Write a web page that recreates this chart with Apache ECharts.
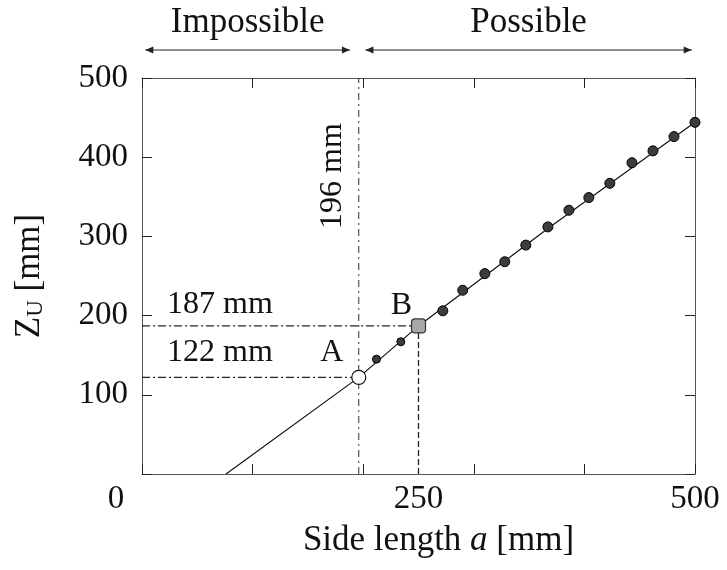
<!DOCTYPE html>
<html>
<head>
<meta charset="utf-8">
<script src="https://cdn.jsdelivr.net/npm/echarts@6/dist/echarts.min.js"></script>
<style>
html, body { margin: 0; padding: 0; background: #fff; }
#chart { width: 727px; height: 570px; }
</style>
</head>
<body>
<div id="chart"></div>
<script>
// computed points: side length a [mm] -> Zu [mm]
var sideA = [212, 234, 272, 290, 310, 328, 347, 367, 386, 404, 423, 443, 462, 481, 500];
var zuVals = [145, 167, 206, 232, 253, 268, 289, 312, 333, 349, 367, 393, 408, 426, 444];
// line through the points
var lineA = [76, 196, 250, 367, 500];
var lineZu = [0, 122, 187, 310, 444];
// limit point A and point B
var pointA = [196, 122];
var pointB = [250, 187];
// top ranges
var impossibleRange = [3, 188];
var possibleRange = [202, 497];
var xLabelTicks = [0, 250, 500];
var yTicks = [100, 200, 300, 400, 500];

var FONT = "'Liberation Serif', 'DejaVu Serif', serif";

function zip(xs, ys) {
    var out = [];
    for (var i = 0; i < xs.length; i++) out.push([xs[i], ys[i]]);
    return out;
}

var chart = echarts.init(document.getElementById('chart'));

var frameLine = { show: true, onZero: false, lineStyle: { color: '#555', width: 1 } };
var inTick = { show: true, inside: true, length: 10, lineStyle: { color: '#222', width: 1 } };

var option = {
    animation: false,
    backgroundColor: '#fff',
    grid: { left: 142, right: 32, top: 78, bottom: 96, containLabel: false },
    xAxis: [
        { type: 'value', min: 0, max: 500, interval: 100, position: 'bottom',
          axisLine: frameLine, axisTick: inTick, axisLabel: { show: false }, splitLine: { show: false } },
        { type: 'value', min: 0, max: 500, interval: 250, position: 'bottom',
          axisLine: { show: false, onZero: false }, axisTick: { show: false }, splitLine: { show: false },
          axisLabel: {
              margin: 9, color: '#111', fontFamily: FONT, fontSize: 33,
              formatter: function (v) {
                  if (xLabelTicks.indexOf(v) < 0) return '';
                  return v === 0 ? '{z|0}' : String(v);
              },
              rich: { z: { fontFamily: FONT, fontSize: 33, color: '#111', padding: [0, 52, 0, 0] } }
          },
          name: '{n|Side length }{i|a}{n| [mm]}', nameLocation: 'middle', nameGap: 49,
          nameTextStyle: {
              padding: [0, 0, 0, 40],
              rich: {
                  n: { fontFamily: FONT, fontSize: 35, color: '#111' },
                  i: { fontFamily: FONT, fontSize: 35, color: '#111', fontStyle: 'italic' }
              }
          } },
        { type: 'value', min: 0, max: 500, interval: 100, position: 'top',
          axisLine: frameLine, axisTick: inTick, axisLabel: { show: false }, splitLine: { show: false } }
    ],
    yAxis: [
        { type: 'value', min: 0, max: 500, interval: 100, position: 'left',
          axisLine: frameLine, axisTick: inTick, splitLine: { show: false },
          axisLabel: {
              margin: 14, color: '#111', fontFamily: FONT, fontSize: 33,
              formatter: function (v) { return yTicks.indexOf(v) < 0 ? '' : String(v); }
          },
          name: '{n|Z}{s|U}{n| [mm]}', nameLocation: 'middle', nameGap: 95, nameRotate: 90,
          nameTextStyle: {
              rich: {
                  n: { fontFamily: FONT, fontSize: 35, color: '#111', lineHeight: 36, verticalAlign: 'bottom' },
                  s: { fontFamily: FONT, fontSize: 23, color: '#111', lineHeight: 24, verticalAlign: 'bottom' }
              }
          } },
        { type: 'value', min: 0, max: 500, interval: 100, position: 'right',
          axisLine: frameLine, axisTick: inTick, axisLabel: { show: false }, splitLine: { show: false } }
    ],
    series: [
        { type: 'line', data: zip(lineA, lineZu), symbol: 'none', z: 2,
          lineStyle: { color: '#111', width: 1.2 } },
        // guide lines
        { type: 'line', data: [[pointA[0], 0], [pointA[0], 500]], symbol: 'none', z: 1,
          lineStyle: { color: '#333', width: 1, type: [7, 4, 2, 4] } },
        { type: 'line', data: [[0, pointB[1]], [pointB[0], pointB[1]]], symbol: 'none', z: 1,
          lineStyle: { color: '#222', width: 1.2, type: [8, 3, 2, 3] } },
        { type: 'line', data: [[0, pointA[1]], [pointA[0], pointA[1]]], symbol: 'none', z: 1,
          lineStyle: { color: '#222', width: 1.2, type: [8, 3, 2, 3] } },
        { type: 'line', data: [[pointB[0], 0], [pointB[0], pointB[1]]], symbol: 'none', z: 1,
          lineStyle: { color: '#222', width: 1.3, type: [6, 3] } },
        // points
        { type: 'scatter', data: zip(sideA, zuVals), z: 5,
          symbolSize: function (v, p) { return p.dataIndex < 2 ? 8 : 10; },
          itemStyle: { color: '#3c3c3c', borderColor: '#000', borderWidth: 1, opacity: 1 } },
        { type: 'scatter', data: [pointA], symbol: 'circle', symbolSize: 14, z: 6,
          itemStyle: { color: '#fff', borderColor: '#111', borderWidth: 1.2, opacity: 1 } },
        { type: 'scatter', data: [pointB], symbol: 'roundRect', symbolSize: 14, z: 6,
          itemStyle: { color: '#a8a8a8', borderColor: '#333', borderWidth: 1.2, opacity: 1 } }
    ]
};

chart.setOption(option);

function px(a, z) {
    return chart.convertToPixel({ gridIndex: 0 }, [a, z]);
}

function txt(text, x, y, size, align, rot) {
    return {
        type: 'text', x: x, y: y, rotation: rot || 0, z: 20,
        style: {
            text: text, x: 0, y: 0, fill: '#111',
            font: size + 'px ' + FONT,
            align: align || 'center', verticalAlign: 'middle',
            textAlign: align || 'center', textVerticalAlign: 'middle'
        }
    };
}

function arrow(range, y) {
    var x0 = px(range[0], 0)[0], x1 = px(range[1], 0)[0];
    return [
        { type: 'line', z: 20, shape: { x1: x0, y1: y, x2: x1, y2: y }, style: { stroke: '#222', lineWidth: 1.2 } },
        { type: 'polygon', z: 20, shape: { points: [[x0, y], [x0 + 8, y - 3.5], [x0 + 8, y + 3.5]] }, style: { fill: '#222' } },
        { type: 'polygon', z: 20, shape: { points: [[x1, y], [x1 - 8, y - 3.5], [x1 - 8, y + 3.5]] }, style: { fill: '#222' } }
    ];
}

var frameTop = px(0, 500)[1];
var arrowY = frameTop - 28;
var pA = px(pointA[0], pointA[1]);
var pB = px(pointB[0], pointB[1]);
var p187 = px(0, pointB[1]);
var p122 = px(0, pointA[1]);

var elems = [];
elems = elems.concat(arrow(impossibleRange, arrowY), arrow(possibleRange, arrowY));
elems.push(txt('Impossible', px((impossibleRange[0] + impossibleRange[1]) / 2, 0)[0], arrowY - 27, 35));
elems.push(txt('Possible', px((possibleRange[0] + possibleRange[1]) / 2, 0)[0], arrowY - 27, 35));
elems.push(txt(pointB[1] + ' mm', p187[0] + 25, p187[1] - 21, 32, 'left'));
elems.push(txt(pointA[1] + ' mm', p122[0] + 25, p122[1] - 25, 32, 'left'));
elems.push(txt('A', pA[0] - 27, pA[1] - 25, 32));
elems.push(txt('B', pB[0] - 17, pB[1] - 20, 32));
elems.push(txt(pointA[0] + ' mm', pA[0] - 26, 176, 32, 'center', Math.PI / 2));

chart.setOption({ graphic: { elements: elems } });
</script>
</body>
</html>
